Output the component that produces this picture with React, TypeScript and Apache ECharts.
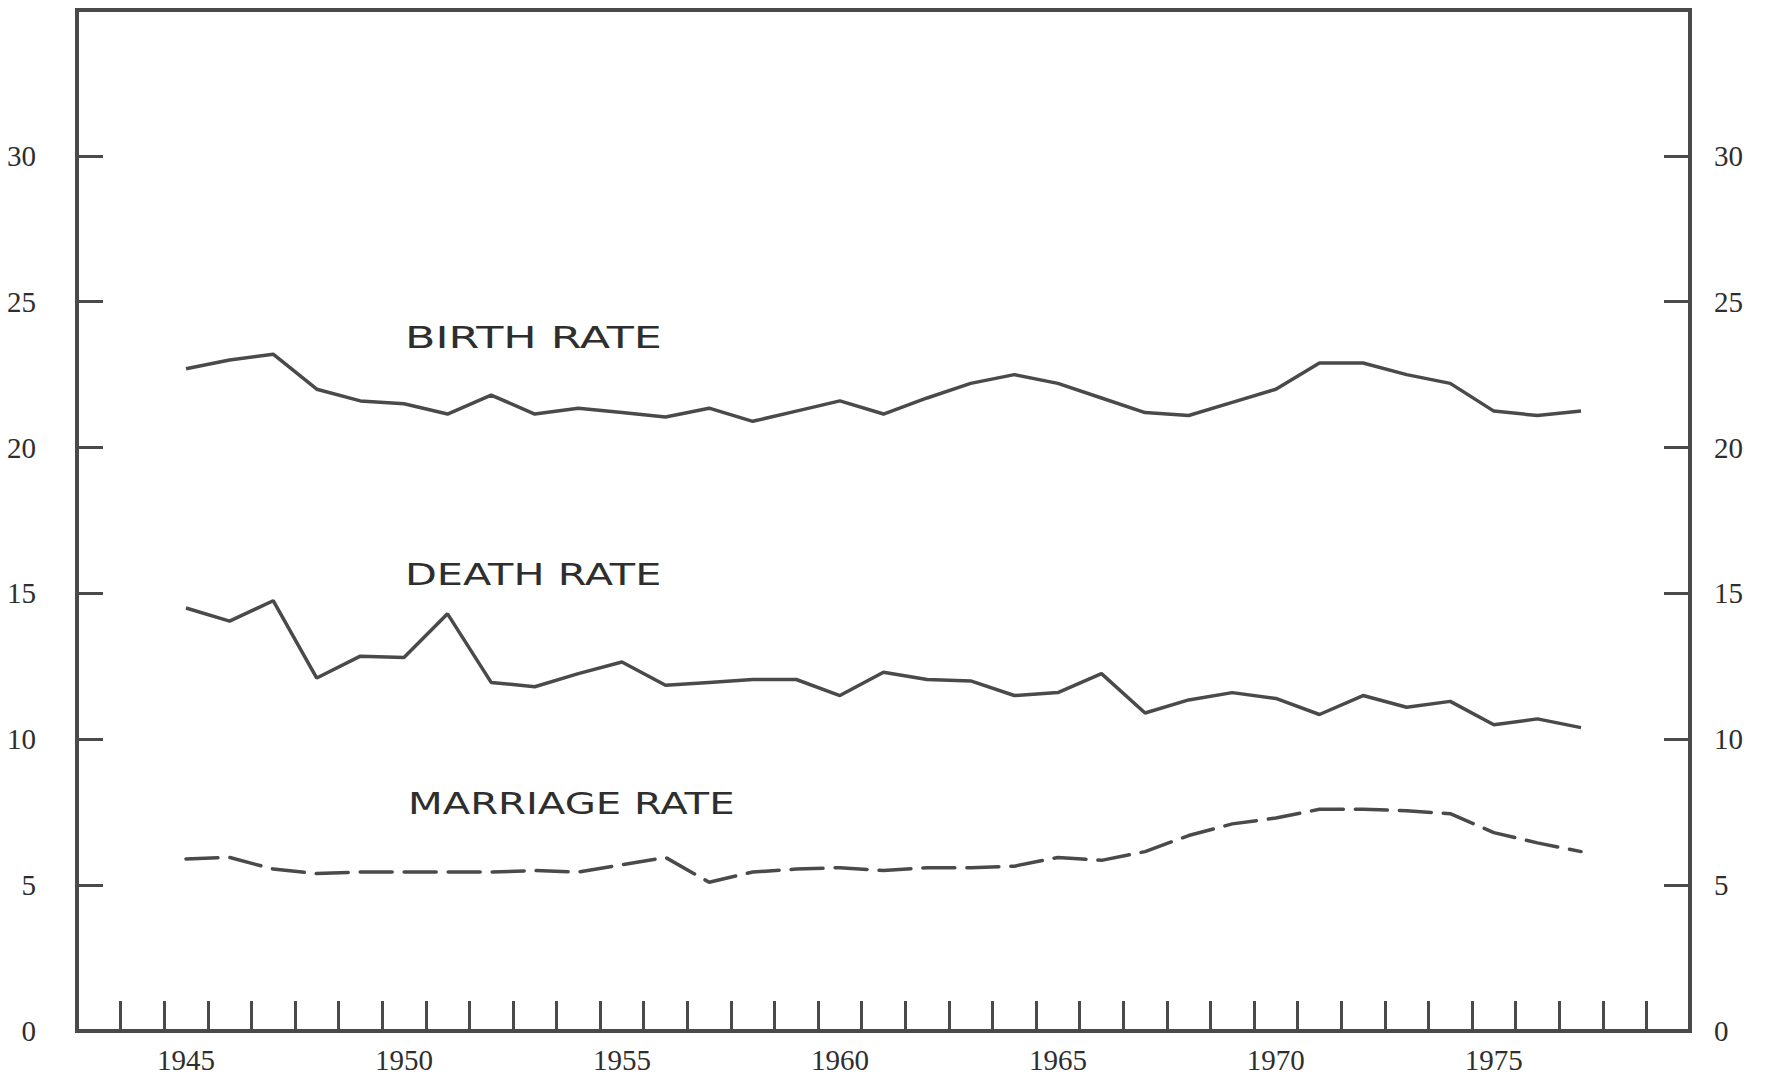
import React, { useEffect, useRef } from "react";
import * as echarts from "echarts";

// Category slots on the x axis (one per year)
const categories = [
  "1943", "1944", "1945", "1946", "1947", "1948", "1949", "1950", "1951", "1952",
  "1953", "1954", "1955", "1956", "1957", "1958", "1959", "1960", "1961", "1962",
  "1963", "1964", "1965", "1966", "1967", "1968", "1969", "1970", "1971", "1972",
  "1973", "1974", "1975", "1976", "1977", "1978", "1979",
];

const firstDataYear = 1945;

// Rates per 1000, 1945–1977
const birthRate = [
  22.7, 23.0, 23.2, 22.0, 21.6, 21.5, 21.15, 21.8, 21.15, 21.35,
  21.2, 21.05, 21.35, 20.9, 21.25, 21.6, 21.15, 21.7, 22.2, 22.5,
  22.2, 21.7, 21.2, 21.1, 21.55, 22.0, 22.9, 22.9, 22.5, 22.2,
  21.25, 21.1, 21.25,
];

const deathRate = [
  14.5, 14.05, 14.75, 12.1, 12.85, 12.8, 14.3, 11.95, 11.8, 12.25,
  12.65, 11.85, 11.95, 12.05, 12.05, 11.5, 12.3, 12.05, 12.0, 11.5,
  11.6, 12.25, 10.9, 11.35, 11.6, 11.4, 10.85, 11.5, 11.1, 11.3,
  10.5, 10.7, 10.4,
];

const marriageRate = [
  5.9, 5.95, 5.55, 5.4, 5.45, 5.45, 5.45, 5.45, 5.5, 5.45,
  5.7, 5.95, 5.1, 5.45, 5.55, 5.6, 5.5, 5.6, 5.6, 5.65,
  5.95, 5.85, 6.15, 6.7, 7.1, 7.3, 7.6, 7.6, 7.55, 7.45,
  6.8, 6.45, 6.15,
];

const seriesLabels = ["BIRTH RATE", "DEATH RATE", "MARRIAGE RATE"];

function alignToCategories(values: number[]) {
  return categories.map((c) => {
    const i = Number(c) - firstDataYear;
    return i >= 0 && i < values.length ? values[i] : "-";
  });
}

const INK = "#4a4a4a";
const TEXT = "#2e2e2e";

export default function App() {
  const ref = useRef<HTMLDivElement>(null);

  useEffect(() => {
    if (!ref.current) return;
    const chart = echarts.init(ref.current, null, { renderer: "svg" });

    const yAxisBase = (position: "left" | "right", margin: number) => ({
      type: "value",
      min: 0,
      max: 35,
      interval: 5,
      position,
      axisLine: { show: false },
      axisTick: {
        show: true,
        inside: true,
        length: 26,
        lineStyle: { color: INK, width: 3 },
      },
      axisLabel: {
        showMaxLabel: false,
        margin,
        fontFamily: "Liberation Serif",
        fontSize: 29,
        color: TEXT,
      },
      splitLine: { show: false },
    });

    const labelText = (text: string, x: number, y: number, sx: number) => ({
      type: "text",
      x,
      y,
      scaleX: sx,
      style: {
        text,
        fontFamily: "DejaVu Sans",
        fontSize: 30,
        fill: TEXT,
        textVerticalAlign: "top",
        verticalAlign: "top",
      },
    });

    chart.setOption({
      animation: false,
      backgroundColor: "#ffffff",
      grid: {
        left: 77,
        right: 91,
        top: 10,
        bottom: 50,
        show: true,
        borderColor: INK,
        borderWidth: 4,
        backgroundColor: "transparent",
      },
      xAxis: {
        type: "category",
        data: categories,
        boundaryGap: true,
        axisLine: { show: false },
        axisTick: {
          show: true,
          inside: true,
          length: 30,
          interval: 0,
          lineStyle: { color: INK, width: 3 },
        },
        axisLabel: {
          interval: (_i: number, v: string) => Number(v) % 5 === 0,
          margin: 14,
          fontFamily: "Liberation Serif",
          fontSize: 29,
          color: TEXT,
        },
        splitLine: { show: false },
      },
      yAxis: [yAxisBase("left", 41), yAxisBase("right", 24)],
      series: [
        {
          name: seriesLabels[0],
          type: "line",
          data: alignToCategories(birthRate),
          showSymbol: false,
          lineStyle: { color: INK, width: 3.5 },
        },
        {
          name: seriesLabels[1],
          type: "line",
          data: alignToCategories(deathRate),
          showSymbol: false,
          lineStyle: { color: INK, width: 3.5 },
        },
        {
          name: seriesLabels[2],
          type: "line",
          data: alignToCategories(marriageRate),
          showSymbol: false,
          lineStyle: { color: INK, width: 3.5, type: [32, 12], cap: "round" },
        },
      ],
      graphic: [
        labelText(seriesLabels[0], 405, 323, 1.48),
        labelText(seriesLabels[1], 405, 560, 1.38),
        labelText(seriesLabels[2], 408, 788, 1.34),
      ],
    });

    return () => chart.dispose();
  }, []);

  return (
    <div
      ref={ref}
      style={{ position: "fixed", left: 0, top: 0, width: 1781, height: 1081 }}
    />
  );
}
